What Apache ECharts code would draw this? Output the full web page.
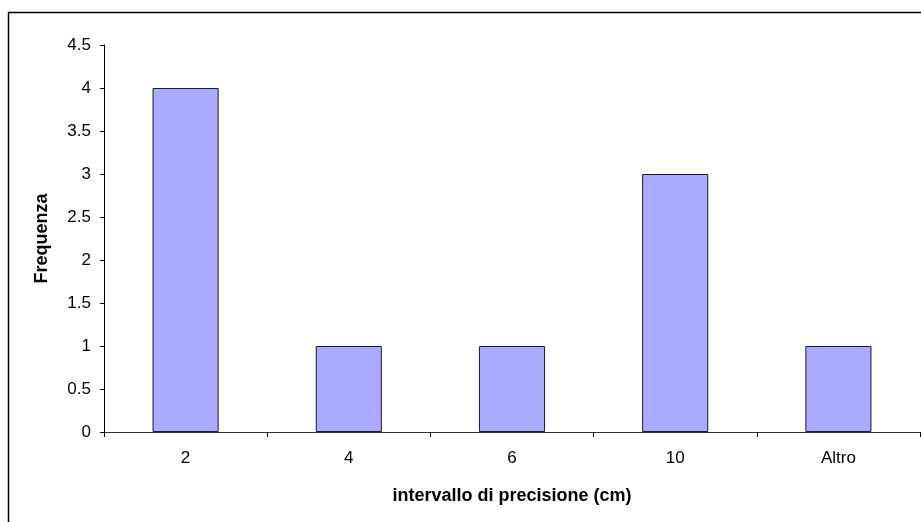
<!DOCTYPE html>
<html>
<head>
<meta charset="utf-8">
<script src="https://cdn.jsdelivr.net/npm/echarts@6/dist/echarts.min.js"></script>
<style>
  html, body { margin: 0; padding: 0; background: #fff; }
  #chart { width: 921px; height: 522px; }
</style>
</head>
<body>
<div id="chart"></div>
<script>
// Frequency histogram of precision intervals
const categories = ['2', '4', '6', '10', 'Altro'];
const frequencies = [4, 1, 1, 3, 1];
const xTitle = 'intervallo di precisione (cm)';
const yTitle = 'Frequenza';

const chart = echarts.init(document.getElementById('chart'), null, { renderer: 'canvas' });
const font = 'Liberation Sans, Arial, sans-serif';

chart.setOption({
  animation: false,
  backgroundColor: '#ffffff',
  graphic: [
    // outer chart frame (left and top edges)
    { type: 'line', shape: { x1: 8.5, y1: 12.5, x2: 8.5, y2: 530 }, style: { stroke: '#000', lineWidth: 1.5 } },
    { type: 'line', shape: { x1: 8, y1: 12.5, x2: 930, y2: 12.5 }, style: { stroke: '#000', lineWidth: 1.5 } }
  ],
  grid: { left: 104, right: 1, top: 45, bottom: 90, containLabel: false },
  xAxis: {
    type: 'category',
    data: categories,
    name: xTitle,
    nameLocation: 'middle',
    nameGap: 55,
    nameTextStyle: { fontFamily: font, fontSize: 18, fontWeight: 'bold', color: '#000' },
    axisLine: { show: true, lineStyle: { color: '#333', width: 1 } },
    axisTick: { show: true, alignWithLabel: false, length: 5, lineStyle: { color: '#000' } },
    axisLabel: { fontFamily: font, fontSize: 17, color: '#000', margin: 18 },
    splitLine: { show: false }
  },
  yAxis: {
    type: 'value',
    min: 0,
    max: 4.5,
    interval: 0.5,
    name: yTitle,
    nameLocation: 'middle',
    nameGap: 53,
    nameTextStyle: { fontFamily: font, fontSize: 18, fontWeight: 'bold', color: '#000' },
    axisLine: { show: true, lineStyle: { color: '#000', width: 1 } },
    axisTick: { show: true, length: 4, lineStyle: { color: '#000' } },
    axisLabel: { fontFamily: font, fontSize: 17, color: '#000', margin: 13 },
    splitLine: { show: false }
  },
  series: [{
    type: 'bar',
    data: frequencies,
    barWidth: '40.5%',
    itemStyle: { color: '#aaaaff', borderColor: '#1a1a2e', borderWidth: 1 }
  }]
});
</script>
</body>
</html>
